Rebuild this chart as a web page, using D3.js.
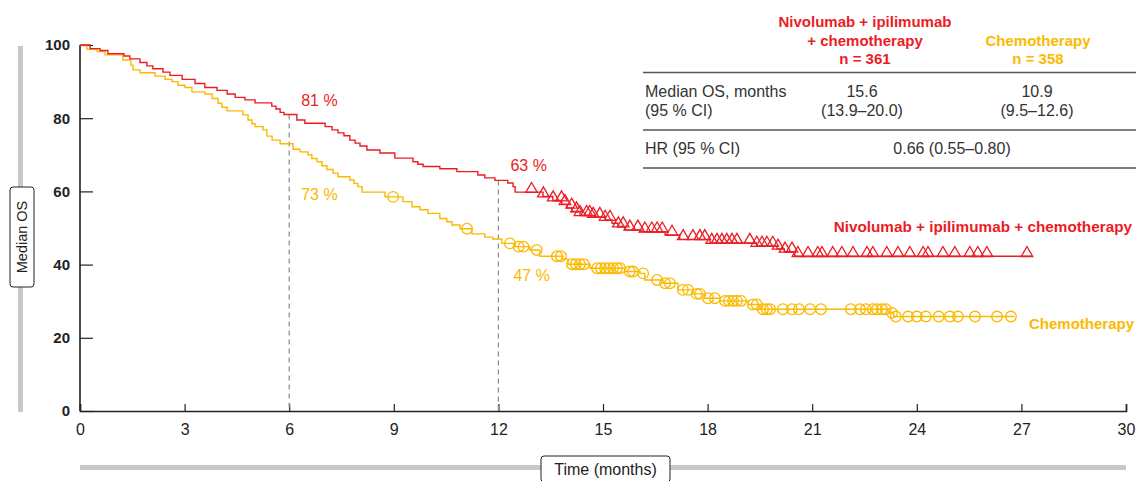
<!DOCTYPE html>
<html>
<head>
<meta charset="utf-8">
<script src="https://cdn.jsdelivr.net/npm/d3@7"></script>
<style>
  html, body { margin: 0; padding: 0; background: #fff; }
  svg { display: block; font-family: "Liberation Sans", Arial, sans-serif; }
</style>
</head>
<body>
<svg id="chart" width="1136" height="481"></svg>
<script>
// Kaplan–Meier overall survival, nivolumab + ipilimumab + chemotherapy vs chemotherapy

const xTicks = [0, 3, 6, 9, 12, 15, 18, 21, 24, 27, 30];
const yTicks = [0, 20, 40, 60, 80, 100];

// Combination arm: step times (months) and survival (%) after each step
const comboTimes = [0, 0.29, 0.57, 0.8, 1.26, 1.43, 1.72, 1.92, 2.09, 2.38, 2.58, 2.93, 3.3, 3.58, 3.93,
  4.22, 4.45, 4.73, 5.02, 5.5, 5.62, 5.74, 5.85, 6.22, 6.45, 7.03, 7.23, 7.4, 7.57, 7.74, 7.89, 8.03,
  8.23, 8.6, 9.03, 9.55, 9.69, 9.84, 10.32, 10.81, 11.41, 11.61, 11.9, 12.27, 12.42, 12.48, 13.28,
  13.56, 13.82, 13.97, 14.11, 14.34, 14.63, 15.06, 15.26, 15.43, 15.62, 16.06, 16.78, 17.2, 18.07,
  19.4, 19.99, 20.2, 20.5];
const comboSurv = [100, 99, 98.5, 97.6, 97, 96.2, 95.2, 94.3, 93.5, 92.6, 91.7, 90.6, 89.5, 88.4, 87.6,
  86.6, 85.7, 85, 84.2, 83.3, 82.5, 81.6, 81, 79.5, 78.6, 77.7, 76.8, 76, 75.2, 74, 73.2, 72.4,
  71.3, 70.5, 69.1, 68.1, 67.4, 66.8, 66.2, 65.4, 64.5, 63.7, 63, 62.3, 61.3, 59.8, 58.6,
  57.5, 56.5, 55.5, 54.5, 53.5, 53, 52.2, 51.3, 50.4, 49.5, 49, 48.1, 46.9, 45.9,
  45.1, 44.3, 43.5, 42.3];
const comboEnd = 27.3;
const comboCensored = [12.95, 13.29, 13.57, 13.81, 13.91, 14.1, 14.24, 14.34, 14.53, 14.62, 14.72, 14.91,
  15.06, 15.2, 15.44, 15.58, 15.77, 16.0, 16.2, 16.4, 16.55, 16.7, 16.98, 17.3, 17.58, 17.78, 17.92,
  18.12, 18.27, 18.41, 18.55, 18.7, 18.84, 19.21, 19.41, 19.56, 19.7, 19.87, 20.02, 20.22, 20.42,
  20.59, 20.88, 21.16, 21.28, 21.59, 21.85, 22.17, 22.57, 22.74, 23.14, 23.46, 23.8, 24.18, 24.32,
  24.75, 25.09, 25.52, 25.75, 26.01, 27.16];

// Chemotherapy arm
const chemoTimes = [0, 0.2, 0.49, 0.72, 1.23, 1.46, 1.52, 1.72, 2.15, 2.44, 2.64, 2.81, 3.01, 3.21, 3.58,
  3.79, 3.96, 4.07, 4.22, 4.67, 4.82, 4.93, 5.02, 5.25, 5.36, 5.51, 5.74, 6.11, 6.31, 6.54, 6.65,
  6.8, 6.94, 7.08, 7.26, 7.4, 7.74, 7.86, 7.97, 8.09, 8.75, 9.26, 9.52, 9.75, 9.98, 10.32, 10.52,
  10.67, 10.9, 11.24, 11.61, 11.84, 12.1, 12.47, 12.9, 13.19, 13.85, 14.0, 14.63, 15.63, 16.06,
  16.2, 16.72, 17.15, 17.58, 17.92, 18.35, 19.16, 19.5, 23.2, 23.34];
const chemoSurv = [100, 98.8, 98.2, 97.3, 95.9, 94.5, 93.2, 92.4, 91.5, 90.6, 90, 89, 88.4, 87.2, 86.6,
  85.4, 84.1, 83, 82, 80.9, 79.5, 78.5, 77.7, 76.8, 75.1, 74, 73, 71.5, 70.8, 70, 69,
  68.1, 67, 66, 65, 64, 63.1, 62.2, 61.3, 59.8, 58.5, 57.2, 55.8, 55, 54, 52.6, 51.7,
  50.8, 49.8, 48.4, 47.5, 47, 45.8, 44.9, 44, 42.3, 41.5, 40.1, 39, 38.1, 37.6,
  35.8, 34.9, 33.1, 32, 30.8, 30.1, 29.1, 27.8, 26.8, 25.8];
const chemoEnd = 26.8;
const chemoCensored = [8.98, 11.1, 12.33, 12.58, 12.72, 13.1, 13.68, 13.79, 14.11, 14.22, 14.34, 14.45,
  14.83, 14.94, 15.06, 15.17, 15.29, 15.4, 15.49, 15.77, 15.86, 16.15, 16.55, 16.78, 16.92, 17.29,
  17.44, 17.69, 17.78, 18.01, 18.21, 18.5, 18.61, 18.73, 18.84, 18.96, 19.3, 19.41, 19.59, 19.7,
  19.79, 20.16, 20.42, 20.62, 20.94, 21.25, 22.11, 22.37, 22.54, 22.74, 22.86, 23.0, 23.11, 23.29,
  23.4, 23.75, 24.0, 24.26, 24.63, 24.95, 25.18, 25.67, 26.3, 26.7];

// Landmark survival labels
const landmarkMonths = [6, 12];
const comboLandmarks = [81, 63];
const chemoLandmarks = [73, 47];

const RED = "#ec1c24";
const YELLOW = "#fbb900";

const svg = d3.select("#chart");
const x = d3.scaleLinear().domain([0, 30]).range([80, 1126]);
const y = d3.scaleLinear().domain([0, 100]).range([411, 45]);

// Grey guide bars behind the axis titles
svg.append("rect").attr("x", 18).attr("y", 46).attr("width", 5).attr("height", 366).attr("fill", "#c8c8c8");
svg.append("rect").attr("x", 80).attr("y", 465).attr("width", 1046).attr("height", 5).attr("fill", "#c8c8c8");

// Axes
const xAxis = d3.axisBottom(x).tickValues(xTicks).tickSize(-7).tickPadding(13).tickFormat(d3.format("d"));
const gx = svg.append("g").attr("transform", `translate(0,${y(0)})`).call(xAxis);
gx.select(".domain").attr("stroke", "#222").attr("stroke-width", 1.6);
gx.selectAll(".tick line").attr("stroke", "#222").attr("stroke-width", 1.2);
gx.selectAll(".tick text").attr("font-family", "'Liberation Sans Narrow', 'Liberation Sans', sans-serif")
  .attr("font-size", 16).attr("fill", "#222");

const yAxis = d3.axisLeft(y).tickValues(yTicks).tickSize(-13).tickPadding(10);
const gy = svg.append("g").attr("transform", `translate(${x(0)},0)`).call(yAxis);
gy.select(".domain").attr("stroke", "#222").attr("stroke-width", 1.6).attr("d", `M0,${y(100)}V${y(0)}`);
gy.selectAll(".tick line").attr("stroke", "#222").attr("stroke-width", 1.2);
gy.selectAll(".tick text").attr("font-size", 15).attr("font-weight", "bold").attr("fill", "#222")
  .attr("x", -10);

// Axis titles in framed boxes
const yTitle = svg.append("g").attr("transform", "translate(22,237)");
yTitle.append("rect").attr("x", -50).attr("y", -12).attr("width", 100).attr("height", 24)
  .attr("rx", 3).attr("fill", "#fff").attr("stroke", "#222").attr("stroke-width", 1)
  .attr("transform", "rotate(-90)");
yTitle.append("text").attr("transform", "rotate(-90)").attr("text-anchor", "middle").attr("dy", "0.35em")
  .attr("font-size", 14.5).attr("fill", "#222").text("Median OS");

svg.append("rect").attr("x", 541).attr("y", 456).attr("width", 129).attr("height", 26)
  .attr("rx", 3).attr("fill", "#fff").attr("stroke", "#222").attr("stroke-width", 1);
svg.append("text").attr("x", 605.5).attr("y", 469).attr("dy", "0.35em").attr("text-anchor", "middle")
  .attr("font-family", "'Liberation Sans Narrow', 'Liberation Sans', sans-serif")
  .attr("font-size", 16).attr("fill", "#222").text("Time (months)");

// Step function helpers
function steps(times, surv, end) {
  const pts = times.map((t, i) => [t, surv[i]]);
  pts.push([end, surv[surv.length - 1]]);
  return pts;
}
function survAt(times, surv, t) {
  let s = surv[0];
  for (let i = 0; i < times.length; i++) { if (times[i] <= t) s = surv[i]; else break; }
  return s;
}

// Landmark reference lines
landmarkMonths.forEach((m, i) => {
  svg.append("line").attr("x1", x(m)).attr("x2", x(m))
    .attr("y1", y(comboLandmarks[i])).attr("y2", y(0))
    .attr("stroke", "#8a8a8a").attr("stroke-width", 1.2).attr("stroke-dasharray", "5,4");
});

const line = d3.line().x(d => x(d[0])).y(d => y(d[1])).curve(d3.curveStepAfter);

svg.append("path").datum(steps(chemoTimes, chemoSurv, chemoEnd)).attr("d", line)
  .attr("fill", "none").attr("stroke", YELLOW).attr("stroke-width", 1.4);
svg.append("path").datum(steps(comboTimes, comboSurv, comboEnd)).attr("d", line)
  .attr("fill", "none").attr("stroke", RED).attr("stroke-width", 1.4);

// Censoring marks
svg.append("g").selectAll("circle").data(chemoCensored).join("circle")
  .attr("cx", d => x(d)).attr("cy", d => y(survAt(chemoTimes, chemoSurv, d)))
  .attr("r", 5.3).attr("fill", "none").attr("stroke", YELLOW).attr("stroke-width", 1.3);

// Triangles sit with their base on the curve
const tri = d3.symbol().type(d3.symbolTriangle).size(58);
svg.append("g").selectAll("path").data(comboCensored).join("path")
  .attr("d", tri).attr("transform", d => `translate(${x(d)},${y(survAt(comboTimes, comboSurv, d)) - 3})`)
  .attr("fill", "none").attr("stroke", RED).attr("stroke-width", 1.3);

// Landmark labels
const labelFont = 16;
landmarkMonths.forEach((m, i) => {
  svg.append("text").attr("x", x(m) + 12).attr("y", y(comboLandmarks[i]) - 9)
    .attr("font-size", labelFont).attr("fill", RED).text(`${comboLandmarks[i]} %`);
});
svg.append("text").attr("x", x(6) + 12).attr("y", 200).attr("font-size", labelFont).attr("fill", YELLOW).text(`${chemoLandmarks[0]} %`);
svg.append("text").attr("x", x(12) + 15).attr("y", 281).attr("font-size", labelFont).attr("fill", YELLOW).text(`${chemoLandmarks[1]} %`);

// Series names at the line ends
svg.append("text").attr("x", 1132).attr("y", 232).attr("text-anchor", "end").attr("font-size", 15.3)
  .attr("font-weight", "bold").attr("fill", RED).text("Nivolumab + ipilimumab + chemotherapy");
svg.append("text").attr("x", 1134).attr("y", 329).attr("text-anchor", "end").attr("font-size", 15)
  .attr("font-weight", "bold").attr("fill", YELLOW).text("Chemotherapy");

// Summary table
const tbl = svg.append("g").attr("font-size", 16).attr("fill", "#333");
const hdr = [["Nivolumab + ipilimumab", 865, 27, RED], ["+ chemotherapy", 865, 46, RED], ["n = 361", 865, 64, RED],
             ["Chemotherapy", 1038, 46, YELLOW], ["n = 358", 1038, 64, YELLOW]];
hdr.forEach(([t, cx, cy, c]) => {
  tbl.append("text").attr("x", cx).attr("y", cy).attr("text-anchor", "middle").attr("font-weight", "bold")
    .attr("font-size", 15).attr("fill", c).text(t);
});
[72.5, 130, 168].forEach(ly => {
  tbl.append("line").attr("x1", 643).attr("x2", 1136).attr("y1", ly).attr("y2", ly)
    .attr("stroke", "#555").attr("stroke-width", 1.4);
});
const cells = [["Median OS, months", 645, 97, "start"], ["(95 % CI)", 645, 116, "start"],
  ["15.6", 862, 97, "middle"], ["(13.9–20.0)", 862, 116, "middle"],
  ["10.9", 1037, 97, "middle"], ["(9.5–12.6)", 1037, 116, "middle"],
  ["HR (95 % CI)", 645, 154, "start"], ["0.66 (0.55–0.80)", 952, 154, "middle"]];
cells.forEach(([t, cx, cy, a]) => {
  tbl.append("text").attr("x", cx).attr("y", cy).attr("text-anchor", a).text(t);
});
</script>
</body>
</html>
